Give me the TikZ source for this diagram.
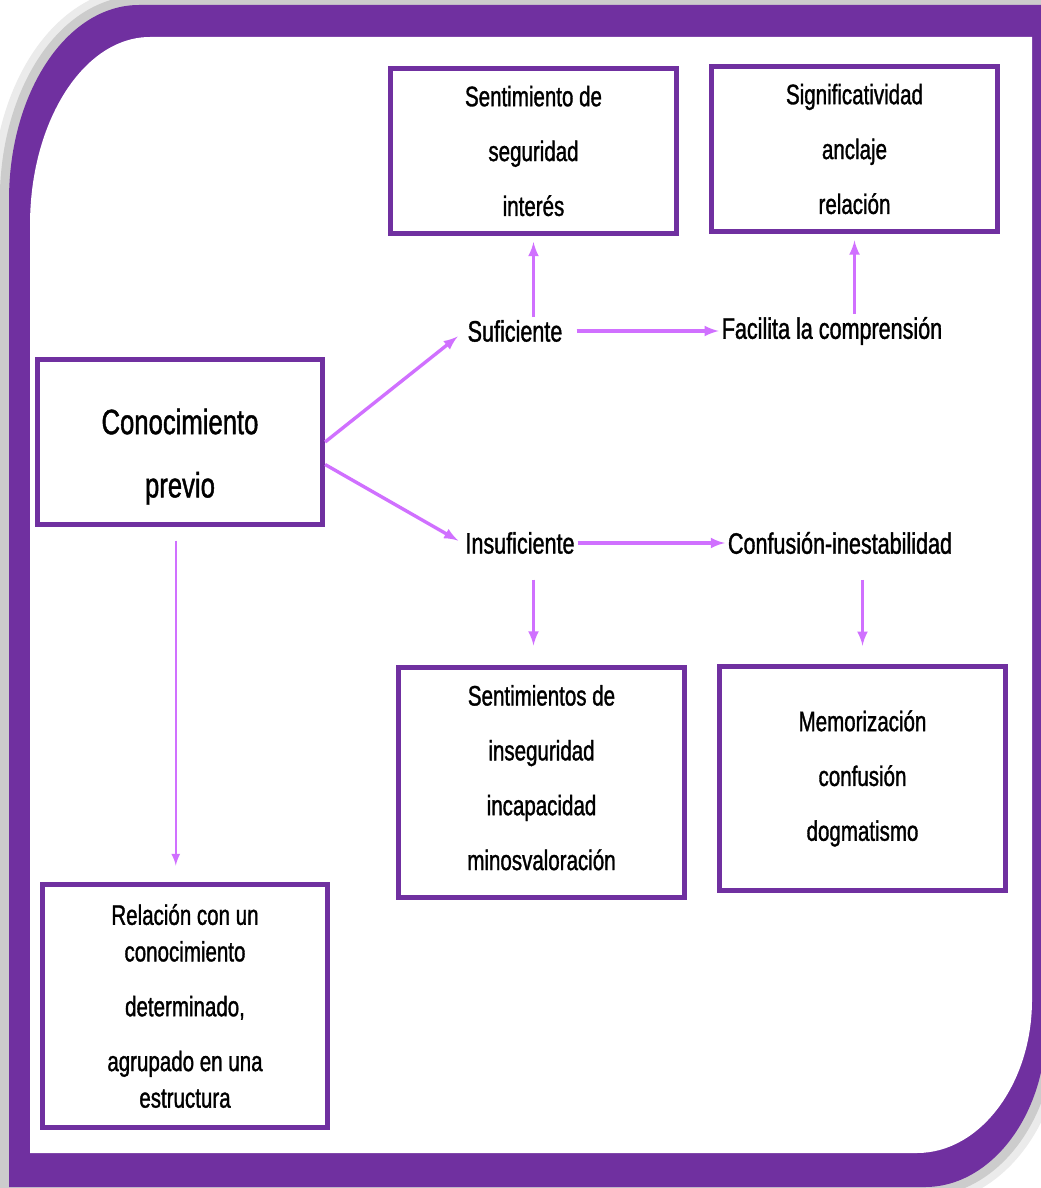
\documentclass[tikz,border=0pt]{standalone}
\usepackage{fontspec}
\setmainfont[FakeStretch=0.73, FakeBold=1.2]{Liberation Sans}
\usetikzlibrary{positioning,calc}
\definecolor{framepurple}{RGB}{112,48,160}
\definecolor{arrowviolet}{RGB}{208,112,255}
\tikzset{>=latex}
\tikzset{
  conceptbox/.style={draw=framepurple, line width=3.5pt, fill=white,
    align=center, minimum width=7.13cm, minimum height=4.13cm,
    inner sep=2pt, font=\fontsize{20}{39}\selectfont},
  labeltext/.style={font=\fontsize{21}{25}\selectfont, inner sep=2pt},
  flow/.style={->, draw=arrowviolet, line width=2.4pt},
}
% outer and inner edge of the rounded frame (pixel units)
\def\outerframe{(9,1187) -- (9,200) .. controls (9,92) and (67,5) .. (139,5)
  -- (1046,5) -- (1046,1027) .. controls (1046,1115) and (991,1187) .. (925,1187) -- cycle}
\def\innerframe{(30,1153) -- (30,225) .. controls (30,121) and (84,37) .. (150,37)
  -- (1032,37) -- (1032,1000) .. controls (1032,1084) and (980,1153) .. (917,1153) -- cycle}

\begin{document}
\begin{tikzpicture}[x=0.025cm, y=-0.025cm]
  \useasboundingbox (0,0) rectangle (1040,1188);
  \fill[white] (0,0) rectangle (1040,1188);
  % frame with its soft shadow
  \draw[black!8, line width=24pt] \outerframe;
  \draw[black!20, line width=13pt] \outerframe;
  \fill[framepurple] \outerframe;
  \fill[white] \innerframe;

  \node[conceptbox, font=\fontsize{25}{45}\selectfont] (conoc) at (180,442)
    {\mbox{}\\[-6pt]Conocimiento\\previo};
  \node[conceptbox] (seg) at (533.5,151) {Sentimiento de\\seguridad\\interés};
  \node[conceptbox] (signif) at (854.5,149) {Significatividad\\anclaje\\relación};
  \node[conceptbox, minimum height=5.75cm] (inseg) at (541.5,782.5)
    {Sentimientos de\\inseguridad\\incapacidad\\minosvaloración\\[-32pt]\mbox{}};
  \node[conceptbox, minimum height=5.6cm] (memo) at (862.5,778.5)
    {Memorización\\confusión\\dogmatismo};
  \node[conceptbox, minimum height=6.08cm] (rel) at (185,1006)
    {Relación con un\\[-13pt]conocimiento\\determinado,\\agrupado en una\\[-13pt]estructura};

  \node[labeltext] (suf) at (515,331) {Suficiente};
  \node[labeltext] (facil) at (832,331) {Facilita la comprensión};
  \node[labeltext] (insuf) at (520,543) {Insuficiente};
  \node[labeltext] (conf) at (840,543) {Confusión-inestabilidad};

  \draw[flow, shorten >=0.22cm] (conoc.east) -- (suf.west);
  \draw[flow, shorten >=0.12cm] ([yshift=-16pt]conoc.east) -- (insuf.west);
  \draw[flow, shorten <=0.28cm] (suf.east) -- (facil.west);
  \draw[flow] (insuf.east) -- (conf.west);
  \draw[flow, shorten >=0.15cm] (suf.north -| seg.south) -- (seg.south);
  \draw[flow, shorten >=0.16cm] (facil.north -| signif.south) -- (signif.south);
  \draw[flow, shorten <=0.57cm, shorten >=0.49cm] (insuf.south -| seg.south) -- (inseg.north -| seg.south);
  \draw[flow, shorten <=0.57cm, shorten >=0.46cm] (conf.south -| memo.north) -- (memo.north);
  \draw[flow, line width=1.8pt, shorten <=0.34cm, shorten >=0.41cm] ([xshift=-3pt]conoc.south) -- ([xshift=-3pt]conoc.south |- rel.north);
\end{tikzpicture}
\end{document}
